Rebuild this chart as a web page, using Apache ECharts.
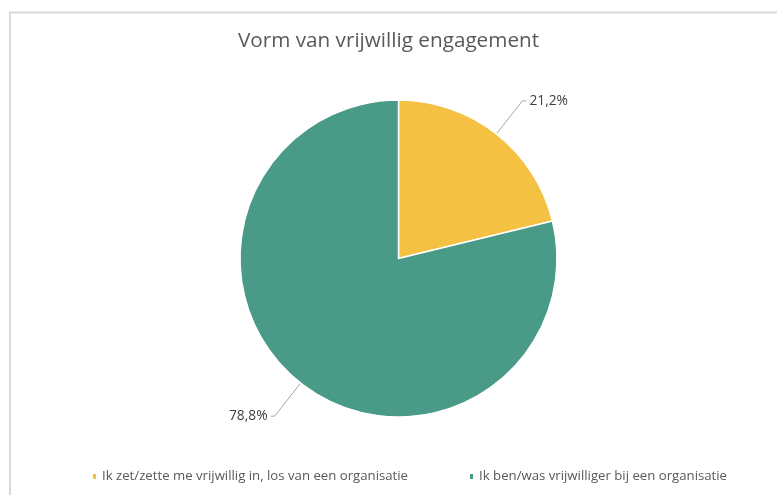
<!DOCTYPE html>
<html>
<head>
<meta charset="utf-8">
<script src="https://cdn.jsdelivr.net/npm/echarts@6/dist/echarts.min.js"></script>
<style>
html,body{margin:0;padding:0;background:#fff;}
#chart{width:777px;height:495px;}
</style>
</head>
<body>
<div id="chart"></div>
<script>
const categories = [
  'Ik zet/zette me vrijwillig in, los van een organisatie',
  'Ik ben/was vrijwilliger bij een organisatie'
];
const values = [21.2, 78.8];
const colors = ['#F5C143', '#4A9A88'];
const titleText = 'Vorm van vrijwillig engagement';

const chart = echarts.init(document.getElementById('chart'));
const fontFam = '"Open Sans", "Noto Sans", sans-serif';
chart.setOption({
  animation: false,
  backgroundColor: '#ffffff',
  color: colors,
  graphic: [{
    type: 'polyline',
    shape: { points: [[10, 495], [10, 12.5], [777, 12.5]] },
    style: { stroke: '#d9d9d9', lineWidth: 2, fill: null },
    silent: true
  }],
  title: {
    text: titleText,
    left: 'center',
    top: 26,
    textStyle: { fontFamily: fontFam, fontSize: 20.7, fontWeight: 'normal', color: '#595959' }
  },
  legend: {
    bottom: 7,
    left: 86,
    icon: 'rect',
    itemWidth: 5,
    itemHeight: 7,
    itemGap: 60,
    textStyle: { fontFamily: fontFam, fontSize: 13.2, color: '#595959' },
    data: categories
  },
  series: [{
    type: 'pie',
    center: [398.5, 258.5],
    radius: 158.5,
    startAngle: 90,
    clockwise: true,
    itemStyle: { borderColor: '#ffffff', borderWidth: 1.5 },
    label: {
      show: true,
      position: 'outside',
      fontFamily: fontFam,
      fontSize: 13.8,
      color: '#404040',
      distanceToLabelLine: 3,
      formatter: p => p.value.toFixed(1).replace('.', ',') + '%'
    },
    labelLine: {
      show: true,
      length: 42,
      length2: 4,
      lineStyle: { color: '#a6a6a6', width: 1 }
    },
    emphasis: { disabled: true },
    data: categories.map((c, i) => ({ name: c, value: values[i] }))
  }]
});
</script>
</body>
</html>
